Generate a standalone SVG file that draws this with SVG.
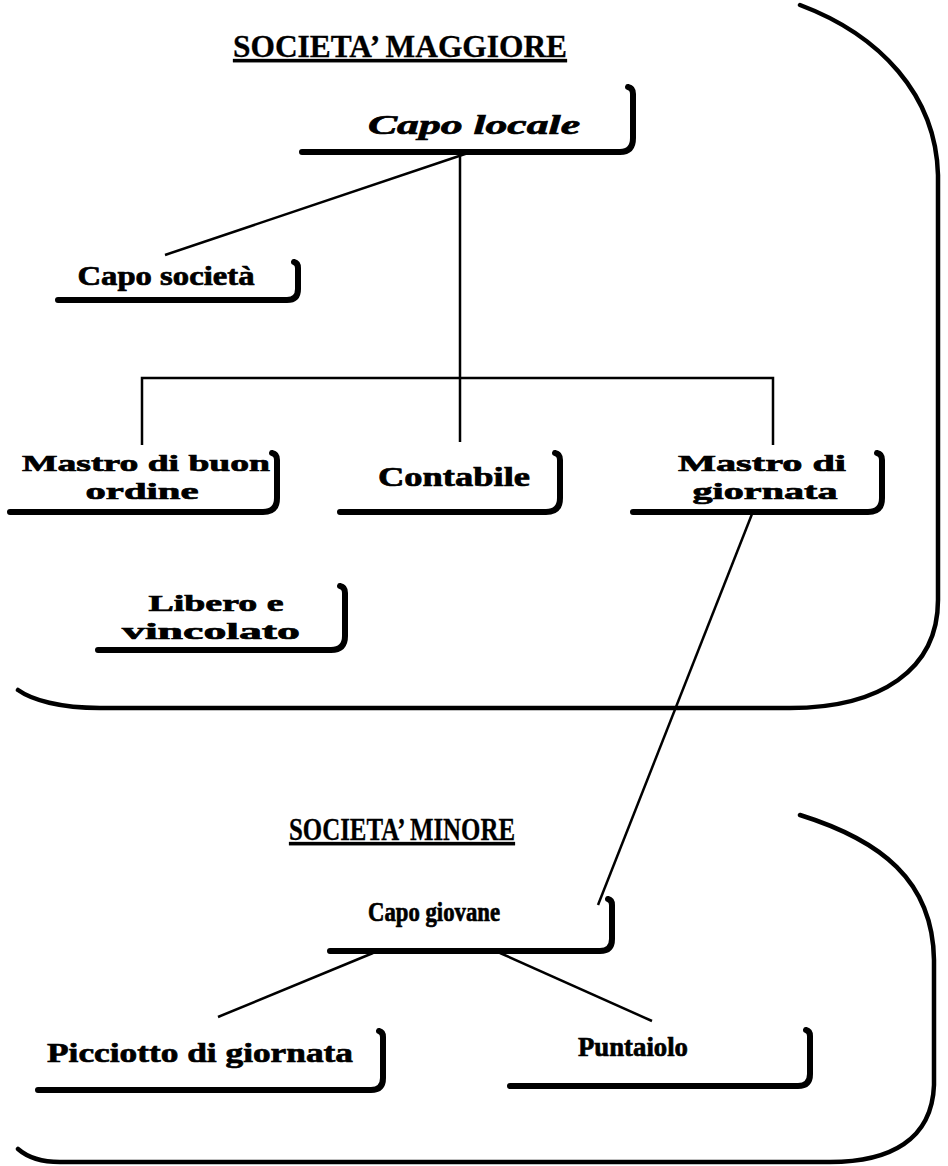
<svg xmlns="http://www.w3.org/2000/svg" width="948" height="1166" viewBox="0 0 948 1166">
<style>
.t{font-family:"Liberation Serif","Times New Roman",serif;font-weight:bold;fill:#000;stroke:#000;stroke-width:0.7;text-anchor:middle}
.n{font-size:28px}
.m{font-size:24px}
.h{font-size:32px;text-decoration:underline;stroke-width:0.3}
.box{fill:none;stroke:#000;stroke-width:6;stroke-linecap:round;stroke-linejoin:round}
.frame{fill:none;stroke:#000;stroke-width:4.5;stroke-linecap:round}
.con{fill:none;stroke:#000;stroke-width:2.5}
</style>
<rect width="948" height="1166" fill="#fff"/>
<g id="frame-maggiore">
<path class="frame" d="M800,5 C880,35 936,95 938,175 L938,600 C938,670 880,708 790,708 L100,708 C60,708 32,700 18,690"/>
<text class="t h" x="400" y="57" textLength="334" lengthAdjust="spacingAndGlyphs">SOCIETA’ MAGGIORE</text>
</g>
<g id="frame-minore">
<path class="frame" d="M800,815 C880,840 933,880 934,960 L934,1085 C932,1140 890,1162 830,1162 L60,1162 C40,1162 26,1156 18,1149"/>
<text class="t h" x="402" y="840" textLength="226" lengthAdjust="spacingAndGlyphs">SOCIETA’ MINORE</text>
</g>
<g id="connectors">
<line class="con" x1="468" y1="153" x2="165" y2="255"/>
<line class="con" x1="460" y1="153" x2="460" y2="442"/>
<polyline class="con" points="142,445 142,378 773,378 773,445"/>
<line class="con" x1="752" y1="514" x2="598" y2="905"/>
<line class="con" x1="373" y1="953" x2="218" y2="1017"/>
<line class="con" x1="500" y1="953" x2="652" y2="1021"/>
</g>
<g id="capo-locale">
<path class="box" d="M302,152 L620,152 Q633,152 633,138 L633,94 Q633,88 628,87"/>
<text class="t n" x="474" y="134" font-style="italic" textLength="212" lengthAdjust="spacingAndGlyphs">Capo locale</text>
</g>
<g id="capo-societa">
<path class="box" d="M58,300 L287,300 Q298,300 298,289 L298,268 Q298,263 294,262"/>
<text class="t n" x="166" y="285" textLength="177" lengthAdjust="spacingAndGlyphs">Capo società</text>
</g>
<g id="mastro-buon-ordine">
<path class="box" d="M10,512 L263,512 Q277,512 277,498 L277,460 Q277,454 272,453"/>
<text class="t m" x="146" y="471" textLength="248" lengthAdjust="spacingAndGlyphs">Mastro di buon</text>
<text class="t m" x="142" y="499" textLength="113" lengthAdjust="spacingAndGlyphs">ordine</text>
</g>
<g id="contabile">
<path class="box" d="M340,512 L546,512 Q560,512 560,498 L560,460 Q560,454 555,453"/>
<text class="t n" x="454" y="486" textLength="152" lengthAdjust="spacingAndGlyphs">Contabile</text>
</g>
<g id="mastro-giornata">
<path class="box" d="M633,512 L868,512 Q882,512 882,498 L882,460 Q882,454 877,453"/>
<text class="t m" x="762" y="471" textLength="168" lengthAdjust="spacingAndGlyphs">Mastro di</text>
<text class="t m" x="765" y="499" textLength="145" lengthAdjust="spacingAndGlyphs">giornata</text>
</g>
<g id="libero-vincolato">
<path class="box" d="M98,650 L331,650 Q345,650 345,636 L345,593 Q345,587 340,586"/>
<text class="t m" x="216" y="611" textLength="135" lengthAdjust="spacingAndGlyphs">Libero e</text>
<text class="t m" x="211" y="639" textLength="178" lengthAdjust="spacingAndGlyphs">vincolato</text>
</g>
<g id="capo-giovane">
<path class="box" d="M330,951 L600,951 Q612,951 612,939 L612,905 Q612,900 608,899"/>
<text class="t n" x="434" y="921" textLength="132" lengthAdjust="spacingAndGlyphs">Capo giovane</text>
</g>
<g id="picciotto-giornata">
<path class="box" d="M38,1090 L371,1090 Q383,1090 383,1078 L383,1037 Q383,1032 379,1031"/>
<text class="t n" x="200" y="1062" textLength="306" lengthAdjust="spacingAndGlyphs">Picciotto di giornata</text>
</g>
<g id="puntaiolo">
<path class="box" d="M510,1086 L798,1086 Q810,1086 810,1074 L810,1036 Q810,1031 806,1030"/>
<text class="t n" x="633" y="1056" textLength="110" lengthAdjust="spacingAndGlyphs">Puntaiolo</text>
</g>
</svg>
